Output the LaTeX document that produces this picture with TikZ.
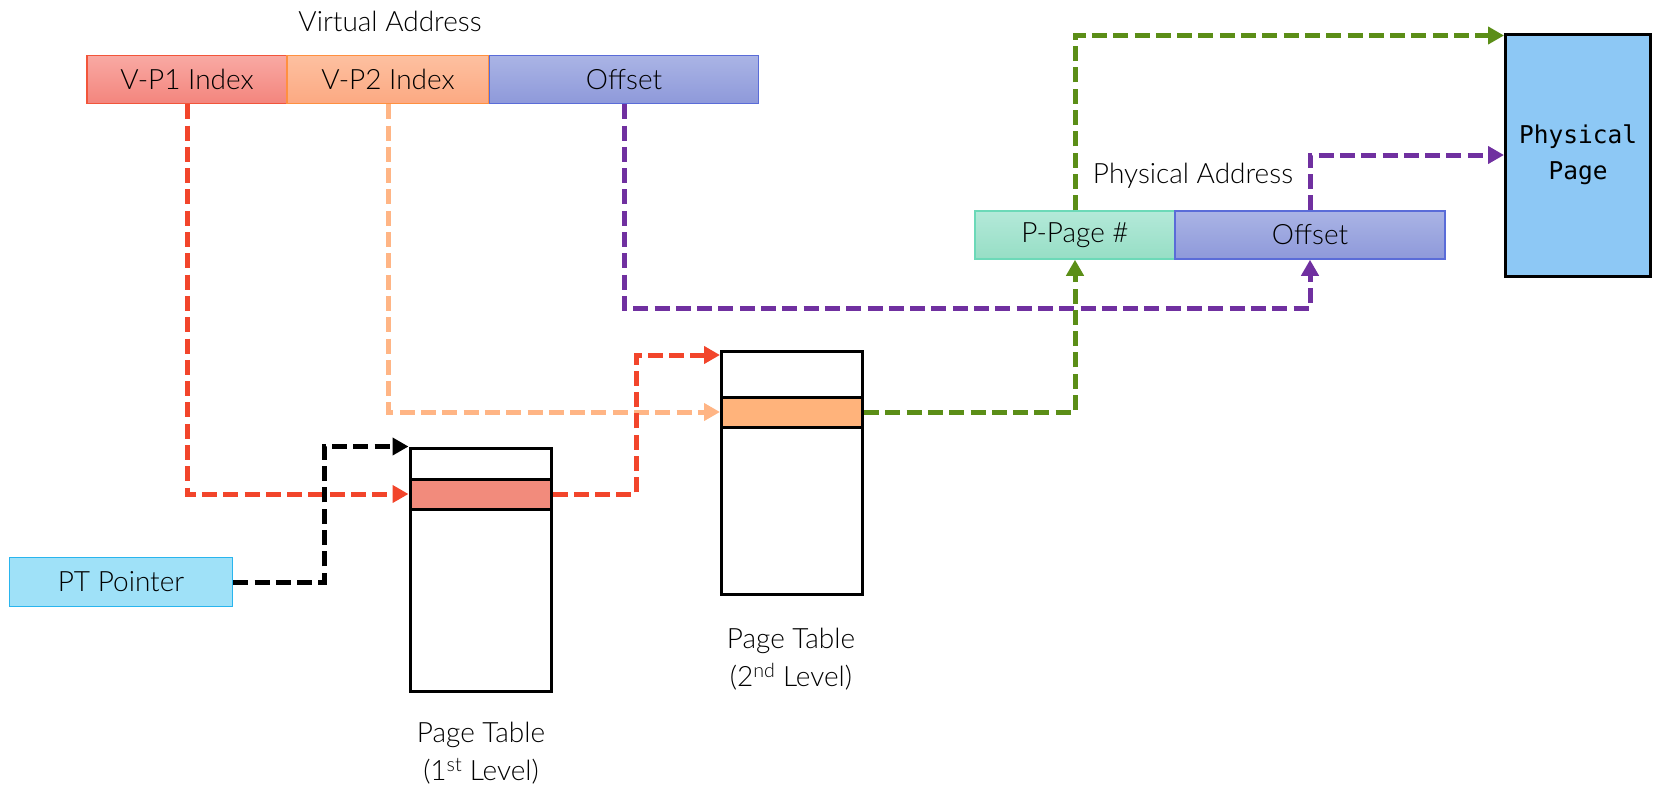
\documentclass[tikz,border=0pt]{standalone}
\usepackage{fontspec}
\IfFontExistsTF{Lato Light}{\setmainfont{Lato Light}}{\setmainfont{Lato}}
\newfontfamily\monob{DejaVu Sans Mono}
\usetikzlibrary{arrows.meta}
\definecolor{vpAtop}{HTML}{F9A9A3}\definecolor{vpAbot}{HTML}{F3857D}\definecolor{vpAbd}{HTML}{F2553A}
\definecolor{vpBtop}{HTML}{FDC0A0}\definecolor{vpBbot}{HTML}{FCA982}\definecolor{vpBbd}{HTML}{FF9040}
\definecolor{offtop}{HTML}{AAB4E5}\definecolor{offbot}{HTML}{8E99DA}\definecolor{offbd}{HTML}{5A6CD8}
\definecolor{pptop}{HTML}{B4E9D9}\definecolor{ppbot}{HTML}{96DEC5}\definecolor{ppbd}{HTML}{6CD9B8}
\definecolor{ptpfill}{HTML}{9FE1F8}\definecolor{ptpbd}{HTML}{29B5EE}
\definecolor{pagefill}{HTML}{8DC8F5}
\definecolor{rowA}{HTML}{F28B7C}\definecolor{rowB}{HTML}{FFB37B}
\definecolor{cred}{HTML}{F2452B}\definecolor{corange}{HTML}{FFB585}
\definecolor{cpurple}{HTML}{7030A0}\definecolor{cgreen}{HTML}{5B8E17}
\begin{document}
\begin{tikzpicture}[x=1pt,y=-1pt,
  field/.style={draw, line width=1.5pt, minimum height=48pt, inner sep=0pt, font=\fontsize{28}{32}\selectfont},
  tablebox/.style={draw, line width=3pt, fill=white, minimum width=141pt, minimum height=243pt, inner sep=0pt},
  rowbox/.style={draw, line width=3pt, minimum width=141pt, minimum height=30pt, inner sep=0pt},
  lbl/.style={font=\fontsize{28}{38}\selectfont, align=center, inner sep=0pt},
  conn/.style={line width=5pt, dash pattern=on 15pt off 6.3pt, -{Triangle[length=16pt,width=17pt]}}]
\useasboundingbox (0,0) rectangle (1654,790);

% virtual address
\node[lbl] (vatext) at (390,21) {Virtual Address};
\node[field, minimum width=200pt, top color=vpAtop, bottom color=vpAbot, draw=vpAbd] (vp1) at (187,79.5) {V-P1 Index};
\node[field, minimum width=202pt, top color=vpBtop, bottom color=vpBbot, draw=vpBbd] (vp2) at (388,79.5) {V-P2 Index};
\node[field, minimum width=269pt, top color=offtop, bottom color=offbot, draw=offbd] (voff) at (624,79.5) {Offset};

% physical address
\node[lbl] (patext) at (1193,176) {Physical Address};
\node[field, minimum width=200pt, top color=pptop, bottom color=ppbot, draw=ppbd] (ppn) at (1075,235) {P-Page \#};
\node[field, minimum width=270pt, top color=offtop, bottom color=offbot, draw=offbd] (poff) at (1310,235) {Offset};

% physical page
\node[draw, line width=3pt, fill=pagefill, minimum width=145pt, minimum height=242pt, inner sep=0pt, align=center,
      font=\monob\fontsize{24.5}{36}\selectfont] (ppage) at (1578,155) {Physical\\Page};

% PT pointer
\node[field, minimum width=223pt, minimum height=49pt, fill=ptpfill, draw=ptpbd] (ptp) at (121,582) {PT Pointer};

% page tables
\node[tablebox] (pt1) at (480.5,569.5) {};
\node[rowbox, fill=rowA] (row1) at (480.5,494) {};
\node[tablebox] (pt2) at (792,472.5) {};
\node[rowbox, fill=rowB] (row2) at (792,412) {};
\node[lbl] (pt1lbl) at (481,753) {Page Table\\(1\textsuperscript{st} Level)};
\node[lbl] (pt2lbl) at (791,659) {Page Table\\(2\textsuperscript{nd} Level)};

% helper coordinates
\coordinate (bendK) at (324,0);
\coordinate (bendR) at (636,0);
\coordinate (bendP) at (0,308);
\coordinate (pt2in) at ([yshift=-5.5pt]pt2.north west);
\coordinate (ppin) at ([yshift=-3pt]ppage.north west);

% connectors
\draw[conn, cred] (vp1.south) |- (row1.west);
\draw[conn, corange] (vp2.south) |- (row2.west);
\draw[conn, cpurple] (voff.south) -- (voff.south |- bendP) -| (poff.south);
\draw[conn, black] (ptp.east) -- (bendK |- ptp.east) |- (pt1.north west);
\draw[conn, cred] (row1.east) -- (bendR |- row1.east) |- (pt2in);
\draw[conn, cgreen] (row2.east) -| (ppn.south);
\draw[conn, cgreen] (ppn.north) |- (ppin);
\draw[conn, cpurple] (poff.north) |- (ppage.west);
\end{tikzpicture}
\end{document}
